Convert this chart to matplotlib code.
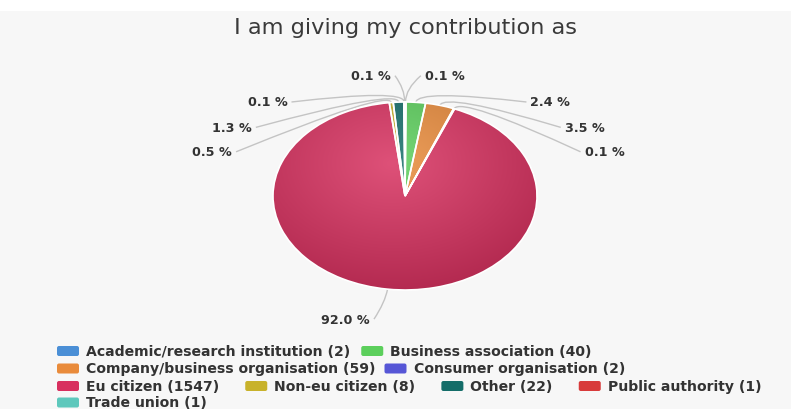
import matplotlib
matplotlib.use("Agg")
import matplotlib.pyplot as plt
import numpy as np
from matplotlib.colors import to_rgb
from matplotlib.patches import Rectangle, FancyBboxPatch, PathPatch
from matplotlib.path import Path
from matplotlib.transforms import IdentityTransform

# data
categories = [
    "Academic/research institution",
    "Business association",
    "Company/business organisation",
    "Consumer organisation",
    "Eu citizen",
    "Non-eu citizen",
    "Other",
    "Public authority",
    "Trade union",
]
counts = [2, 40, 59, 2, 1547, 8, 22, 1, 1]
colors = ["#4b8fd6", "#5ccf5c", "#e98b3b", "#5656d6", "#d8305f",
          "#c8b22b", "#146d69", "#d83b3b", "#5ec8bc"]

# layout: label anchors in pie-radius units, legend rows and gaps
label_pos = [(0.15, 1.28), (0.95, 1.0), (1.21, 0.73), (1.36, 0.47),
             (-0.265, -1.31), (-1.31, 0.47), (-1.16, 0.73), (-0.89, 1.0),
             (-0.106, 1.28)]
legend_rows = [[0, 1], [2, 3], [4, 5, 6, 7], [8]]
legend_row_y = [352, 369.5, 387, 403.5]
legend_gaps = [11, 9, 26, 0]

W, H = 791, 410
CX, CY = 405, 197      # pie centre, pixels from top-left
RX, RY = 132, 94       # pie radii in pixels

fig = plt.figure(figsize=(W / 100, H / 100), dpi=100, facecolor="#f7f7f7")
fig.add_artist(Rectangle((0, H - 12), W, 12, transform=IdentityTransform(),
                         facecolor="white", edgecolor="none"))

xl, yl = 2.9, 1.8
ax = fig.add_axes([(CX - xl * RX) / W, (H - CY - yl * RY) / H,
                   2 * xl * RX / W, 2 * yl * RY / H])

wedges, _ = ax.pie(counts, colors=colors, startangle=90, counterclock=False,
                   radius=1, wedgeprops=dict(edgecolor="none"))

# radial gradient on each slice (light near upper centre, darker at rim)
yy, xx = np.mgrid[1:-1:300j, -1:1:300j]
t = np.clip(np.hypot(xx + 0.1, yy - 0.35) / 1.45, 0, 1)[..., None]
for w, col in zip(wedges, colors):
    base = np.array(to_rgb(col))
    light = base + (1 - base) * 0.16
    dark = base * 0.82
    img = light * (1 - t) + dark * t
    im = ax.imshow(img, extent=(-1, 1, -1, 1), aspect="auto",
                   interpolation="bilinear", zorder=w.get_zorder() + 0.1)
    im.set_clip_path(w)

# white slice borders on top
ax.pie(counts, startangle=90, counterclock=False, radius=1,
       wedgeprops=dict(fill=False, edgecolor="white", linewidth=1.2, zorder=5))

total = sum(counts)
for i, w in enumerate(wedges):
    th = np.deg2rad((w.theta1 + w.theta2) / 2)
    c, s = np.cos(th), np.sin(th)
    lx, ly = label_pos[i]
    right = c >= 0
    ex = lx - 0.03 if right else lx + 0.03
    path = Path([(c, s), (1.14 * c, 1.14 * s), (ex, ly)],
                [Path.MOVETO, Path.CURVE3, Path.CURVE3])
    ax.add_patch(PathPatch(path, fill=False, edgecolor="#c4c4c4",
                           linewidth=1.0, zorder=1))
    ax.text(lx, ly, f"{100 * counts[i] / total:.1f} %",
            ha="left" if right else "right", va="center",
            fontsize=9.2, fontweight="bold", color="#333333")

ax.set_aspect("auto")
ax.set_xlim(-xl, xl)
ax.set_ylim(-yl, yl)
ax.axis("off")

fig.text(CX, H - 28, "I am giving my contribution as", transform=IdentityTransform(),
         ha="center", va="center", fontsize=16.2, color="#3a3a3a")

# legend laid out in rows like the original
renderer = fig.canvas.get_renderer()
for r, row in enumerate(legend_rows):
    y = H - legend_row_y[r]
    x = 57
    for idx in row:
        fig.add_artist(FancyBboxPatch((x, y - 5), 22, 10,
                                      boxstyle="round,pad=0,rounding_size=2",
                                      transform=IdentityTransform(),
                                      facecolor=colors[idx], edgecolor="none"))
        txt = fig.text(x + 29, y, f"{categories[idx]} ({counts[idx]})",
                       transform=IdentityTransform(), ha="left", va="center",
                       fontsize=10.1, fontweight="bold", color="#333333")
        x += 29 + txt.get_window_extent(renderer).width + legend_gaps[r]

fig.savefig("out.png", dpi=100, facecolor=fig.get_facecolor())
